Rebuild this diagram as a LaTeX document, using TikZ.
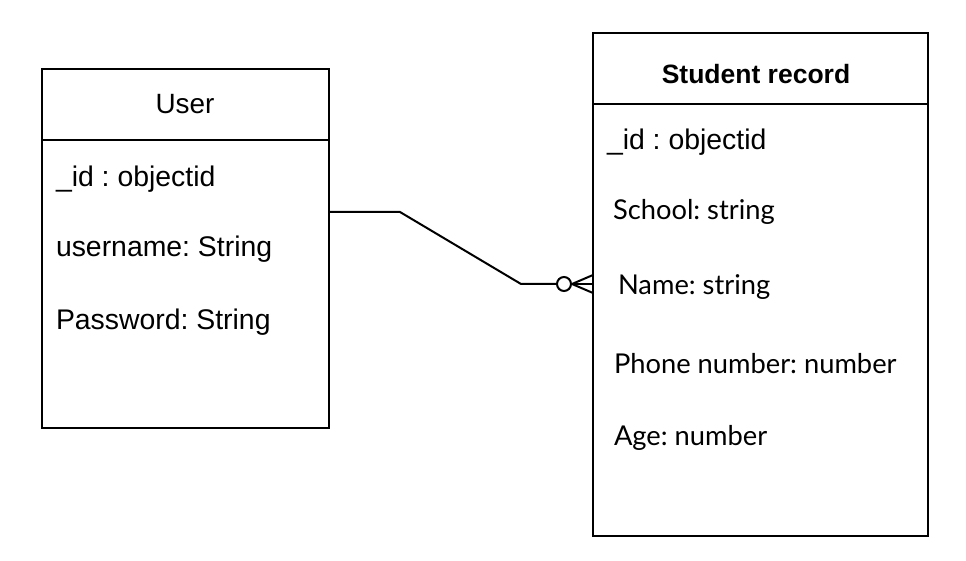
\documentclass[tikz,border=0pt]{standalone}
\usepackage{fontspec}
\setmainfont{Liberation Sans}
\newfontfamily\fieldfont{Lato}
\usetikzlibrary{positioning}
\frenchspacing

\begin{document}
\begin{tikzpicture}[x=1bp,y=-1bp,line width=2bp,
    head/.style={draw,inner sep=0pt,outer sep=0pt},
    body/.style={draw,inner sep=0pt,outer sep=0pt},
    attr/.style={anchor=west,inner sep=0pt,font=\fontsize{28.5}{30}\selectfont},
    sattr/.style={anchor=west,inner sep=0pt,font=\fieldfont\fontsize{27.4}{30}\selectfont}]
  \useasboundingbox (0,0) rectangle (966,561);

  % User
  \node[head,minimum width=287bp,minimum height=71bp] (user) at (185.5,104.5) {};
  \node[body,minimum width=287bp,minimum height=288bp,below=0pt of user] (userbody) {};
  \node[font=\fontsize{28}{30}\selectfont,inner sep=0pt] (utitle) at (185,104) {User};
  \node[attr] (uid)  at (55,179) {\_id : objectid};
  \node[attr] (uname) at (55,249) {username: String};
  \node[attr] (upass) at (55,322) {Password: String};

  % Student record
  \node[head,minimum width=335bp,minimum height=71bp] (stud) at (760.5,68.5) {};
  \node[body,minimum width=335bp,minimum height=432bp,below=0pt of stud] (studbody) {};
  \node[font=\bfseries\fontsize{26.6}{28}\selectfont,inner sep=0pt] (stitle) at (756,74) {Student record};
  \node[attr]  (sid)    at (606,142) {\_id : objectid};
  \node[sattr] (school) at (612,212) {School: string};
  \node[sattr] (sname)  at (617,287) {Name: string};
  \node[sattr] (phone)  at (613,364) {Phone number: number};
  \node[sattr] (age)    at (613,438) {Age: number};

  % zero-or-many link
  \coordinate (src) at (userbody.east |- 0,212);
  \coordinate (dst) at (studbody.west |- 0,284);
  \coordinate (foot) at (572,284);
  \draw (src) -- ++(71,0) -- (521,284) -- (557,284);
  \draw (564,284) circle (7bp);
  \draw (foot) -- (dst);
  \draw (foot) -- ([yshift=-9bp]dst);
  \draw (foot) -- ([yshift=9bp]dst);
\end{tikzpicture}
\end{document}
